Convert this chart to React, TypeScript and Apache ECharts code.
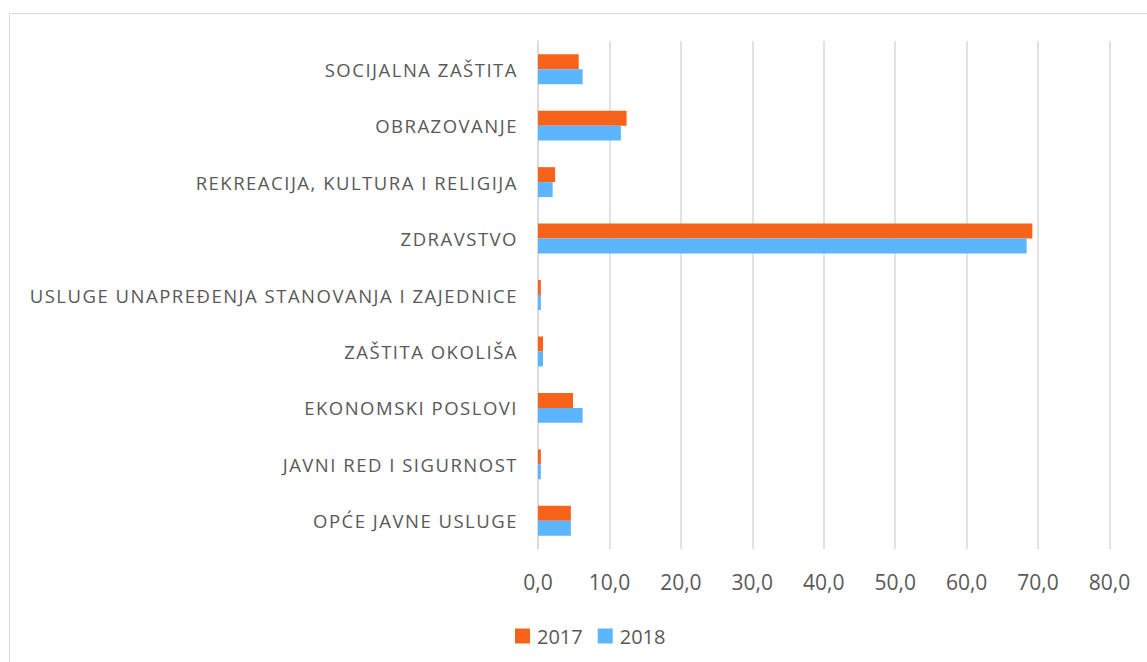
import React, { useEffect, useRef } from "react";
import * as echarts from "echarts";

// bottom-to-top order (ECharts category axis starts at the bottom)
const categories = [
  "OPĆE JAVNE USLUGE",
  "JAVNI RED I SIGURNOST",
  "EKONOMSKI POSLOVI",
  "ZAŠTITA OKOLIŠA",
  "USLUGE UNAPREĐENJA STANOVANJA I ZAJEDNICE",
  "ZDRAVSTVO",
  "REKREACIJA, KULTURA I RELIGIJA",
  "OBRAZOVANJE",
  "SOCIJALNA ZAŠTITA",
];
const values2017 = [4.6, 0.4, 4.9, 0.7, 0.4, 69.2, 2.4, 12.4, 5.7];
const values2018 = [4.6, 0.4, 6.25, 0.7, 0.4, 68.4, 2.05, 11.6, 6.25];
const xTicks = { min: 0, max: 80, interval: 10 };

const FONT = "'Open Sans', 'Noto Sans', sans-serif";
const CAT_FONT = "'Open Sans', Lato, sans-serif";

export default function App() {
  const ref = useRef<HTMLDivElement>(null);
  useEffect(() => {
    if (!ref.current) return;
    const chart = echarts.init(ref.current, null, { renderer: "svg" });
    chart.setOption({
      animation: false,
      backgroundColor: "#ffffff",
      graphic: [
        {
          type: "rect",
          shape: { x: 9.5, y: 13.5, width: 1300, height: 800 },
          style: { fill: "none", stroke: "#d9d9d9", lineWidth: 1 },
          silent: true,
        },
      ],
      legend: {
        data: ["2017", "2018"],
        left: 510,
        top: 621,
        itemWidth: 15,
        itemHeight: 15,
        itemGap: 15,
        icon: "rect",
        textStyle: { color: "#595959", fontSize: 20, fontFamily: FONT, padding: [0, 0, 0, 2] },
      },
      grid: { left: 538, right: 37.5, top: 41, bottom: 113, containLabel: false },
      xAxis: {
        type: "value",
        min: xTicks.min,
        max: xTicks.max,
        interval: xTicks.interval,
        axisLine: { show: false },
        axisTick: { show: false },
        splitLine: { lineStyle: { color: "#d9d9d9", width: 1.5 } },
        axisLabel: {
          color: "#595959",
          fontSize: 21,
          fontFamily: FONT,
          margin: 22,
          formatter: (v: number) => v.toFixed(1).replace(".", ","),
        },
      },
      yAxis: {
        type: "category",
        data: categories,
        axisLine: { show: true, lineStyle: { color: "#d9d9d9", width: 1.5 } },
        axisTick: { show: false },
        axisLabel: {
          color: "#595959",
          fontSize: 18.5,
          fontFamily: CAT_FONT,
          margin: 20,
        },
      },
      series: [
        {
          name: "2017",
          type: "bar",
          data: values2017,
          itemStyle: { color: "#f7631b" },
          barGap: "0%",
          barCategoryGap: "47%",
        },
        {
          name: "2018",
          type: "bar",
          data: values2018,
          itemStyle: { color: "#5db5fe" },
          barGap: "0%",
          barCategoryGap: "47%",
        },
      ],
    });
    return () => chart.dispose();
  }, []);
  return (
    <>
      <style>{`text[style*="Lato"]{letter-spacing:1.5px}`}</style>
      <div
        ref={ref}
        style={{ position: "fixed", left: 0, top: 0, width: 1147, height: 662 }}
      />
    </>
  );
}
